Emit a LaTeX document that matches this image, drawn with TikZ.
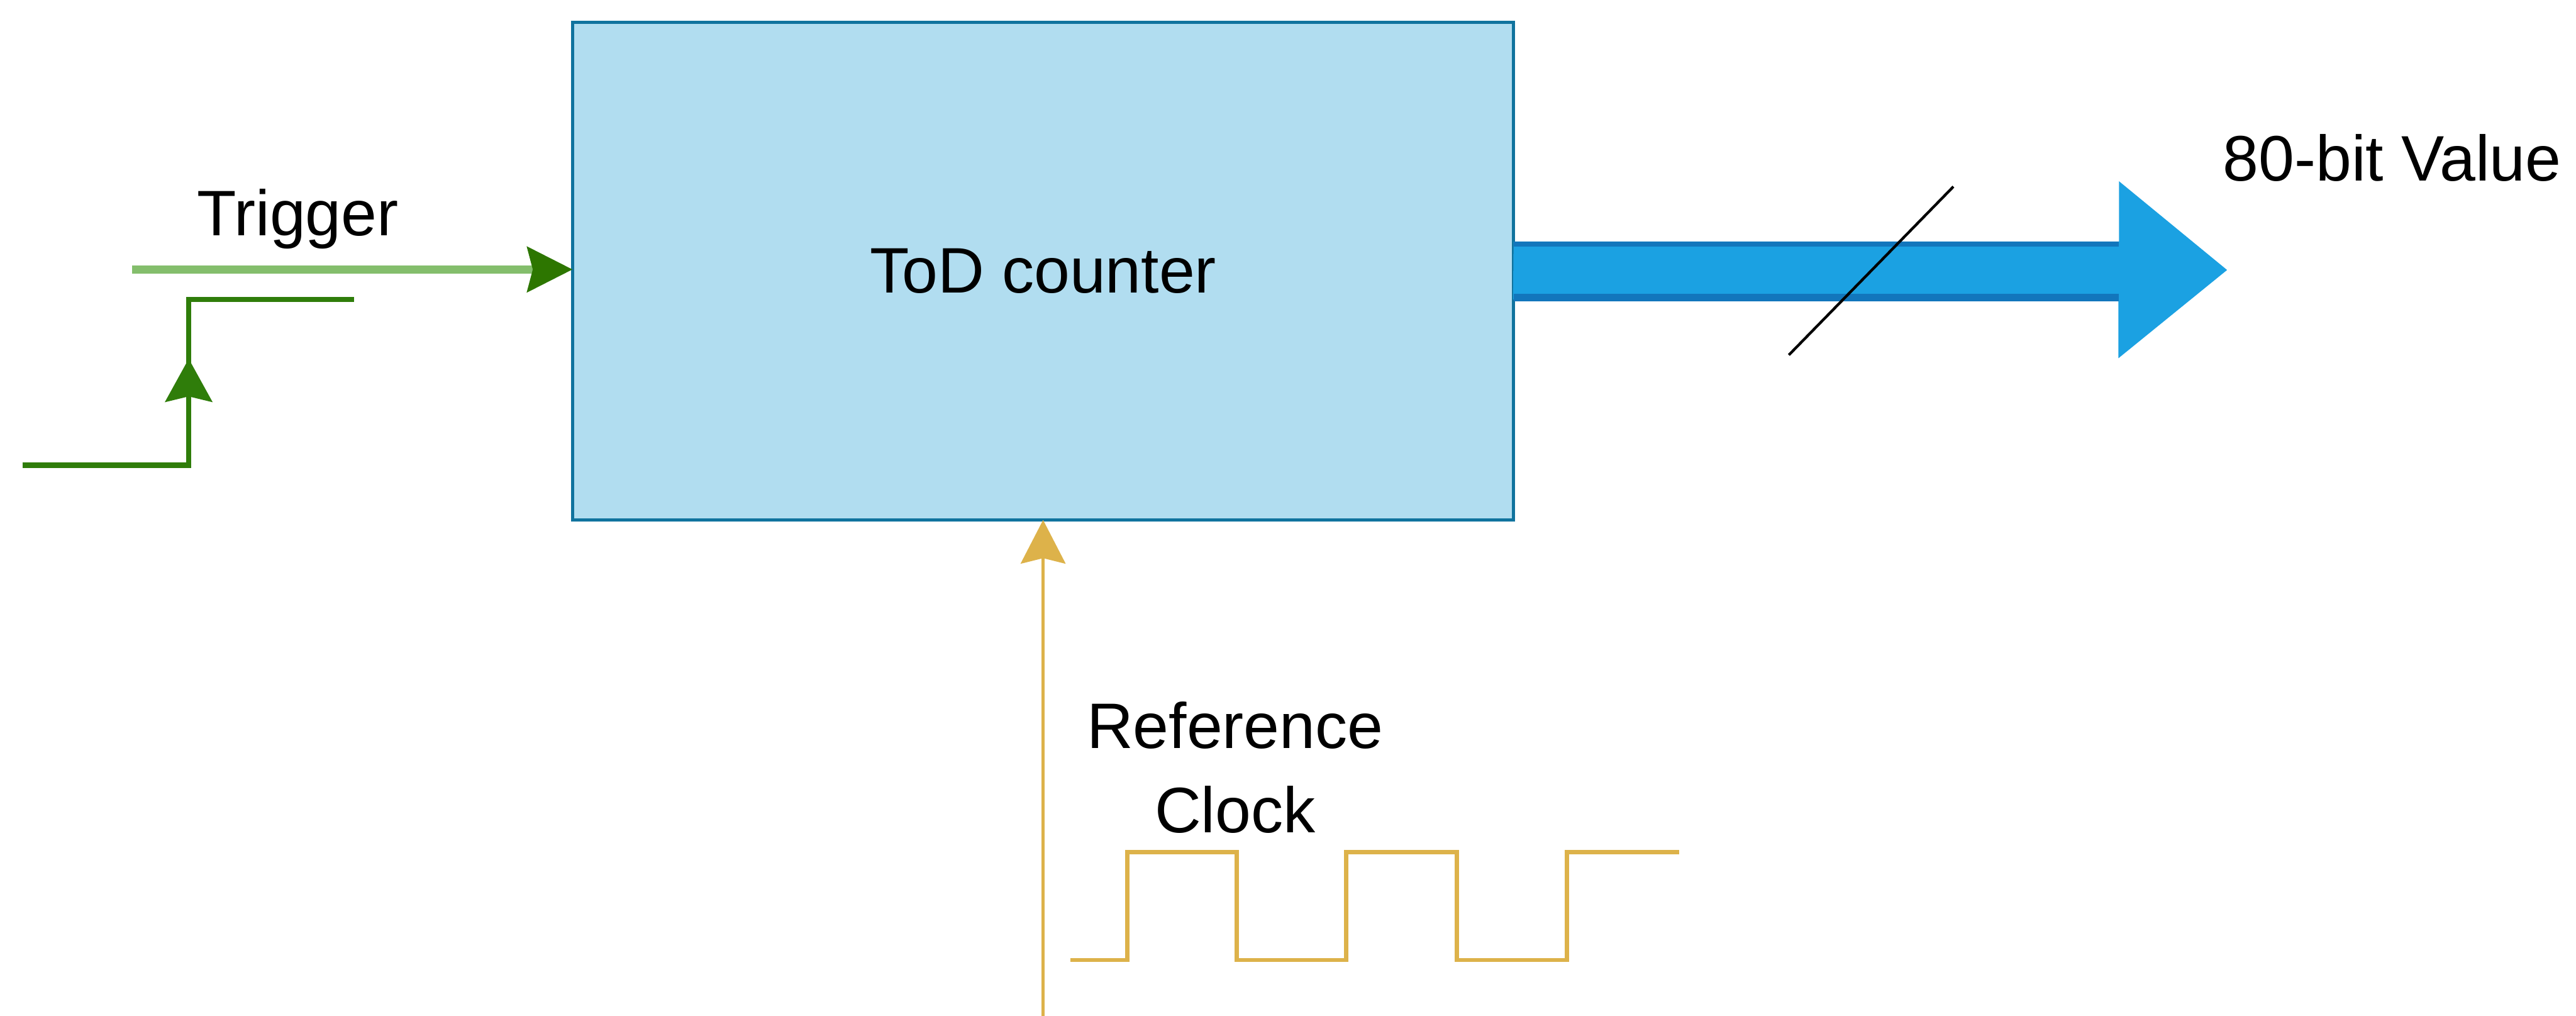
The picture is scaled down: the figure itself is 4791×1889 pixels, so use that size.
\documentclass[tikz,border=0pt]{standalone}
\usepackage{fontspec}
\setmainfont{Liberation Sans}
\usetikzlibrary{arrows.meta,calc}
\definecolor{boxfill}{HTML}{B1DDF0}
\definecolor{boxline}{HTML}{10739E}
\definecolor{trigline}{HTML}{84BE6C}
\definecolor{trighead}{HTML}{2D7600}
\definecolor{stepgreen}{HTML}{2F7D0A}
\definecolor{clockgold}{HTML}{DDB24A}
\definecolor{arrowblue}{HTML}{1BA1E2}
\definecolor{arrowedge}{HTML}{1276BC}
\begin{document}
\begin{tikzpicture}[x=0.01cm,y=-0.01cm,
  lbl/.style={font=\fontsize{34}{44.4}\selectfont, inner sep=0pt, text=black},
  todbox/.style={draw=boxline, fill=boxfill, line width=0.06cm,
    minimum width=17.49cm, minimum height=9.25cm, inner sep=0pt, outer sep=0pt,
    font=\fontsize{34}{40}\selectfont},
  trigarrow/.style={draw=trigline, line width=0.15cm,
    -{Stealth[length=0.84cm,width=0.83cm,inset=0.1cm,color=trighead]}},
  stepline/.style={draw=stepgreen, line width=0.1cm},
  steparrow/.style={draw=stepgreen, line width=0.1cm,
    -{Stealth[length=0.8cm,width=0.87cm,inset=0.1cm]}},
  clockline/.style={draw=clockgold, line width=0.08cm},
  clockarrow/.style={draw=clockgold, line width=0.06cm,
    -{Stealth[length=0.81cm,width=0.83cm,inset=0.1cm]}},
  bigarrow/.style={fill=arrowblue},
  slash/.style={draw=black, line width=0.05cm}
]
\useasboundingbox (0,0) rectangle (4791,1889);

% main block
\node[todbox] (tod) at (1940,504) {ToD counter};

% trigger input
\coordinate (tstart) at (246,501);
\draw[trigarrow] (tstart) -- (tod.west |- tstart);
\node[lbl, anchor=base] (tlabel) at (554,438) {Trigger};

% trigger step waveform
\coordinate (s0) at (42,865);
\coordinate (s1) at (351,865);
\coordinate (s2) at (351,557);
\coordinate (s3) at (659,557);
\coordinate (sa) at (351,667);
\draw[stepline, line join=miter] (s0) -- (s1) -- (s2) -- (s3);
\draw[steparrow] (s1) -- (sa);

% reference clock input
\coordinate (cbot) at (1940,1889);
\draw[clockarrow] (cbot) -- (tod.south);
\node[lbl, align=center] (clabel) at (2297,1427) {Reference\\Clock};
\draw[clockline] (1991,1785) -- (2097,1785) -- (2097,1584) -- (2300,1584)
  -- (2300,1785) -- (2504,1785) -- (2504,1584) -- (2710,1584)
  -- (2710,1785) -- (2914,1785) -- (2914,1584) -- (3123,1584);

% 80-bit output bus arrow
\coordinate (vtip) at (4142,502);
\fill[bigarrow] (tod.east) ++(0,-55) -- ++(1126,0) -- ++(0,-112)
  -- (vtip) -- ++(-202,164) -- ++(0,-109) -- ++(-1126,0) -- cycle;
\fill[arrowedge] (tod.east) ++(0,-55) rectangle ++(1126,10);
\fill[arrowedge] (tod.east) ++(0,42) rectangle ++(1126,14);
\draw[slash] (3633,347) -- (3327,660);
\node[lbl, anchor=base] (vlabel) at (4449,336) {80-bit Value};
\end{tikzpicture}
\end{document}
